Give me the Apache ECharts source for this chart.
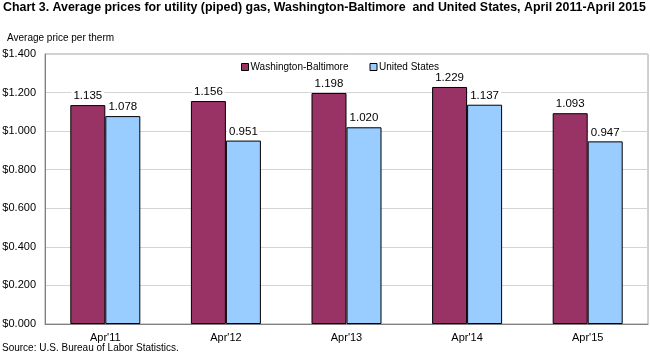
<!DOCTYPE html>
<html>
<head>
<meta charset="utf-8">
<script src="https://cdn.jsdelivr.net/npm/echarts@6/dist/echarts.min.js"></script>
<style>
  html, body { margin: 0; padding: 0; background: #fff; }
  #chart { width: 650px; height: 354px; }
</style>
</head>
<body>
<div id="chart"></div>
<script>
// chart data
const categories = ["Apr'11", "Apr'12", "Apr'13", "Apr'14", "Apr'15"]
const washBalt = [1.135, 1.156, 1.198, 1.229, 1.093]
const unitedStates = [1.078, 0.951, 1.020, 1.137, 0.947]
const seriesNames = ['Washington-Baltimore', 'United States']

const font = '"Liberation Sans", Arial, sans-serif'
const chart = echarts.init(document.getElementById('chart'))

const barLabel = {
  show: true,
  position: 'top',
  distance: 3,
  color: '#000',
  fontFamily: font,
  fontSize: 11.5,
  backgroundColor: '#fff',
  padding: [0, 2],
  formatter: p => p.value.toFixed(3)
}

chart.setOption({
  animation: false,
  textStyle: { fontFamily: font },
  title: [
    {
      text: 'Chart 3. Average prices for utility (piped) gas, Washington-Baltimore  and United States, April 2011-April 2015',
      left: 3, top: 2, padding: 0,
      textStyle: { fontSize: 12.4, fontWeight: 'bold', color: '#000', fontFamily: font }
    },
    {
      text: 'Average price per therm',
      left: 7, top: 33, padding: 0,
      textStyle: { fontSize: 10, fontWeight: 'normal', color: '#000', fontFamily: font }
    },
    {
      text: 'Source: U.S. Bureau of Labor Statistics.',
      left: 2, top: 343, padding: 0,
      textStyle: { fontSize: 10, fontWeight: 'normal', color: '#000', fontFamily: font }
    }
  ],
  legend: {
    data: seriesNames,
    top: 62, left: 241, padding: 0,
    itemWidth: 7, itemHeight: 7, itemGap: 21,
    icon: 'rect',
    textStyle: { fontSize: 10, color: '#000', fontFamily: font, padding: [0, 0, 0, -3] },
    itemStyle: { borderColor: '#000', borderWidth: 1 }
  },
  grid: {
    left: 45, right: 2, top: 54, bottom: 30,
    outerBoundsMode: 'none',
    show: true, borderColor: '#a0a0a0', borderWidth: 1
  },
  xAxis: {
    type: 'category',
    data: categories,
    axisTick: { show: false },
    axisLine: { lineStyle: { color: '#808080' } },
    axisLabel: { color: '#000', fontSize: 11, margin: 8, fontFamily: font }
  },
  yAxis: {
    type: 'value',
    min: 0, max: 1.4, interval: 0.2,
    axisLine: { show: true, lineStyle: { color: '#808080' } },
    axisTick: { show: false },
    splitLine: { lineStyle: { color: '#d4d4d4' } },
    axisLabel: {
      color: '#000', fontSize: 11, margin: 9, fontFamily: font,
      formatter: v => '$' + v.toFixed(3)
    }
  },
  series: [
    {
      name: seriesNames[0],
      type: 'bar',
      data: washBalt,
      barWidth: 35,
      barGap: '0%',
      itemStyle: { color: '#993366', borderColor: '#000', borderWidth: 1 },
      label: barLabel
    },
    {
      name: seriesNames[1],
      type: 'bar',
      data: unitedStates,
      barWidth: 35,
      itemStyle: { color: '#99ccff', borderColor: '#000', borderWidth: 1 },
      label: barLabel
    }
  ]
})
</script>
</body>
</html>
